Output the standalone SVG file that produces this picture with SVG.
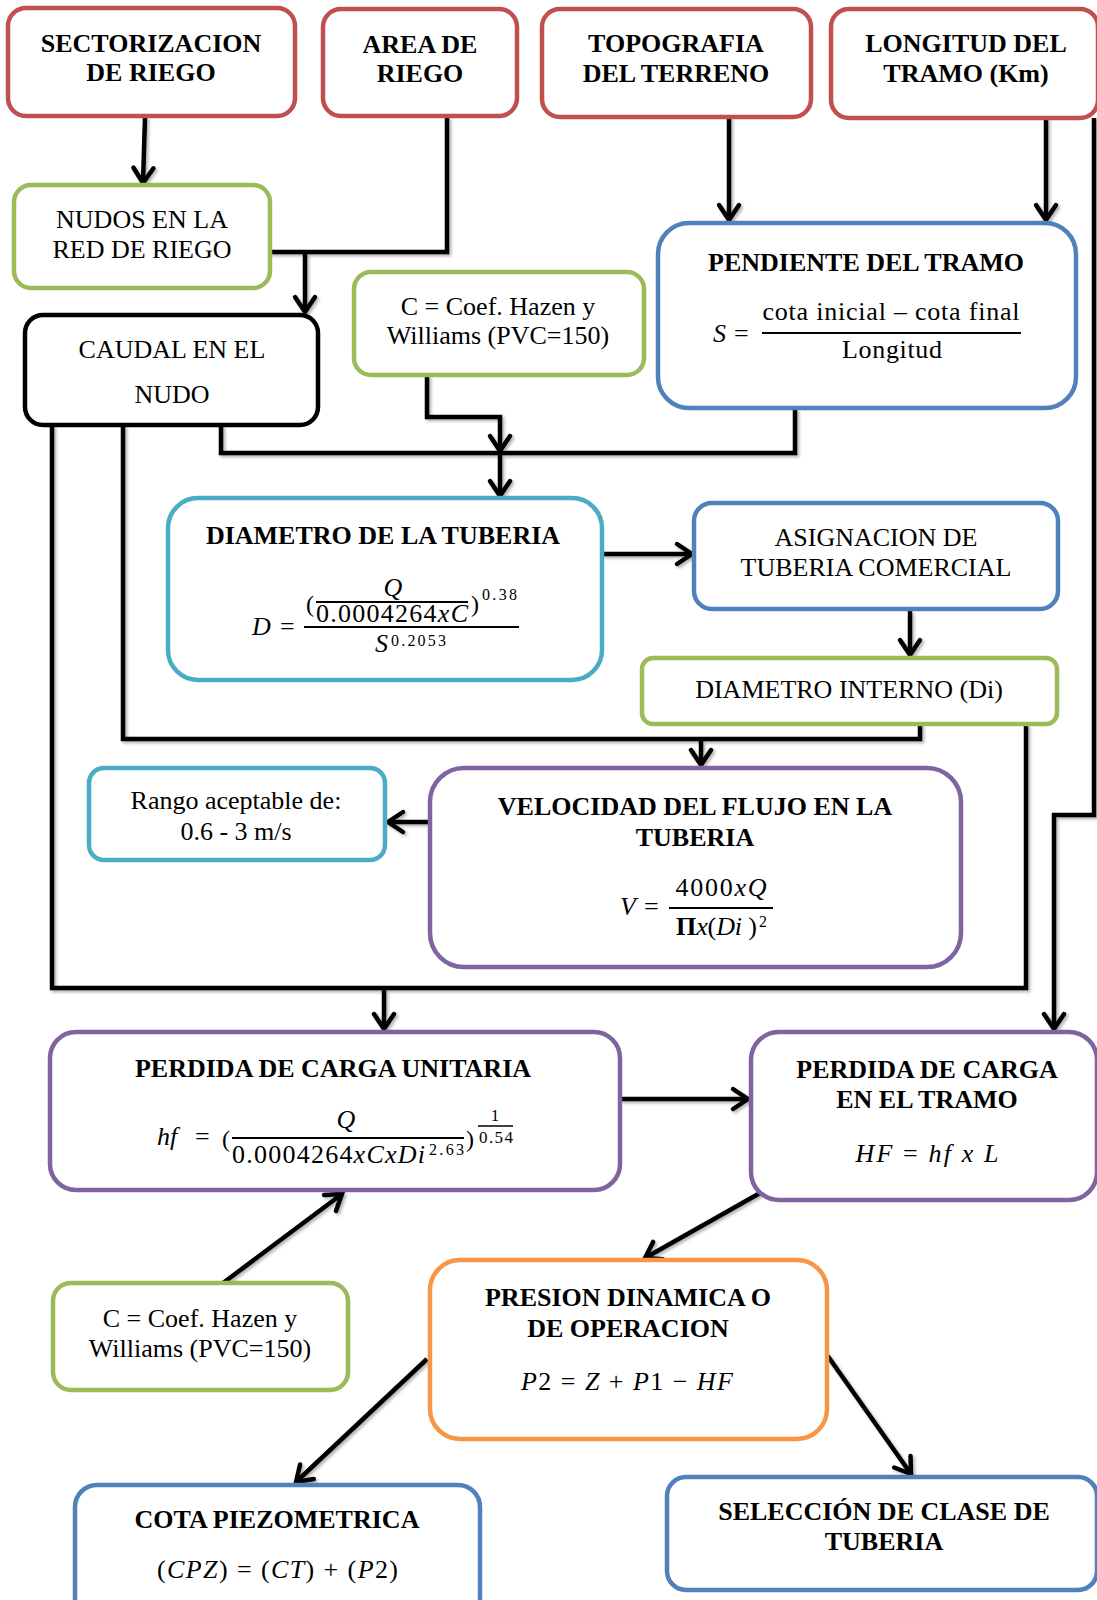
<svg xmlns="http://www.w3.org/2000/svg" width="1097" height="1600" viewBox="0 0 1097 1600">
<style>
.box{fill:#fff;stroke-width:4.5}
.red{stroke:#C0504D}.grn{stroke:#9BBB59}.blu{stroke:#4F81BD}.aqu{stroke:#4BACC6}.pur{stroke:#8064A2}.org{stroke:#F79646}.blk{stroke:#000}
text{font-family:"Liberation Serif","Times New Roman",serif;font-size:26px;fill:#000}
.c{text-anchor:middle}
.b{font-weight:bold}
.i{font-style:italic}
.n{font-style:normal}
.sup{font-size:16px}
.s15{font-size:17px}
.s24{font-size:24px}
.con{fill:none;stroke:#000;stroke-width:4.5;stroke-linejoin:miter}
.bar{stroke:#000;stroke-width:2}
</style>
<defs>
<marker id="ah" markerUnits="userSpaceOnUse" markerWidth="40" markerHeight="40" viewBox="-20 -20 40 40" refX="0" refY="0" orient="auto">
<path d="M-15,-10 L0,0 L-15,10" fill="none" stroke="#000" stroke-width="4.5" stroke-linecap="round"/>
</marker>
<filter id="sh" x="-10%" y="-10%" width="120%" height="120%">
<feDropShadow dx="2" dy="2" stdDeviation="1.5" flood-color="#000" flood-opacity="0.3"/>
</filter>
</defs>

<g id="connectors" filter="url(#sh)">
<path class="con" d="M145,117 L143,183" marker-end="url(#ah)"/>
<path class="con" d="M447,117 V252 H270 M305,252 V312" marker-end="url(#ah)"/>
<path class="con" d="M729,117 V220" marker-end="url(#ah)"/>
<path class="con" d="M1046,118 V220" marker-end="url(#ah)"/>
<path class="con" d="M1094,118 V815 H1054 V1029" marker-end="url(#ah)"/>
<path class="con" d="M427,375 V417 H500 V451" marker-end="url(#ah)"/>
<path class="con" d="M221,425 V453 H795 V408 M500,453 V496" marker-end="url(#ah)"/>
<path class="con" d="M602,554 H692" marker-end="url(#ah)"/>
<path class="con" d="M910,611 V655" marker-end="url(#ah)"/>
<path class="con" d="M123,425 V739 H920 V724 M701,739 V765" marker-end="url(#ah)"/>
<path class="con" d="M430,822 H388" marker-end="url(#ah)"/>
<path class="con" d="M52,425 V988 H1026 V724 M384,988 V1029" marker-end="url(#ah)"/>
<path class="con" d="M620,1099 H748" marker-end="url(#ah)"/>
<path class="con" d="M223,1283 L342,1194" marker-end="url(#ah)"/>
<path class="con" d="M760,1193 L645,1258" marker-end="url(#ah)"/>
<path class="con" d="M427,1359 L296,1482" marker-end="url(#ah)"/>
<path class="con" d="M827,1355 L911,1474" marker-end="url(#ah)"/>
</g>

<g id="n1"><rect class="box red" x="8" y="8" width="287" height="108" rx="18"/>
<text class="c b" x="151" y="52">SECTORIZACION</text><text class="c b" x="151" y="81">DE RIEGO</text></g>

<g id="n2"><rect class="box red" x="323" y="9" width="194" height="107" rx="18"/>
<text class="c b" x="420" y="53">AREA DE</text><text class="c b" x="420" y="82">RIEGO</text></g>

<g id="n3"><rect class="box red" x="542" y="9" width="269" height="108" rx="18"/>
<text class="c b" x="676" y="52">TOPOGRAFIA</text><text class="c b" x="676" y="82">DEL TERRENO</text></g>

<g id="n4"><rect class="box red" x="831" y="9" width="267" height="109" rx="18"/>
<text class="c b" x="966" y="52">LONGITUD DEL</text><text class="c b" x="966" y="82">TRAMO (Km)</text></g>

<g id="n5"><rect class="box grn" x="14" y="185" width="256" height="103" rx="17"/>
<text class="c" x="142" y="228">NUDOS EN LA</text><text class="c" x="142" y="258">RED DE RIEGO</text></g>

<g id="n6"><rect class="box blk" x="25" y="315" width="293" height="110" rx="18"/>
<text class="c" x="172" y="358">CAUDAL EN EL</text><text class="c" x="172" y="403">NUDO</text></g>

<g id="n7"><rect class="box grn" x="354" y="272" width="290" height="103" rx="17"/>
<text class="c" x="498" y="315">C = Coef. Hazen y</text><text class="c" x="498" y="344">Williams (PVC=150)</text></g>

<g id="n8"><rect class="box blu" x="658" y="223" width="418" height="185" rx="31"/>
<text class="c b" x="866" y="271">PENDIENTE DEL TRAMO</text>
<text class="i" x="713" y="342">S</text><text x="734" y="342">=</text>
<line class="bar" x1="762" y1="333" x2="1021" y2="333"/>
<text class="c" x="891" y="320" textLength="257">cota inicial – cota final</text>
<text class="c" x="892" y="358" textLength="100">Longitud</text></g>

<g id="n9"><rect class="box aqu" x="168" y="498" width="434" height="182" rx="30"/>
<text class="c b" x="383" y="544">DIAMETRO DE LA TUBERIA</text>
<text class="i" x="252" y="635">D</text><text x="280" y="635">=</text>
<line class="bar" x1="304" y1="627" x2="519" y2="627"/>
<text class="s24" x="306" y="612">(</text>
<text class="c i" x="393" y="596">Q</text>
<line class="bar" x1="316" y1="602" x2="468" y2="602" style="stroke-width:1.8"/>
<text x="316" y="622" textLength="152">0.0004264<tspan class="i">xC</tspan></text>
<text class="s24" x="471" y="612">)</text>
<text class="sup" x="482" y="600" textLength="35">0.38</text>
<text class="i" x="375" y="652">S</text>
<text class="sup" x="391" y="646" textLength="55">0.2053</text></g>

<g id="n10"><rect class="box blu" x="694" y="503" width="364" height="106" rx="18"/>
<text class="c" x="876" y="546">ASIGNACION DE</text><text class="c" x="876" y="576">TUBERIA COMERCIAL</text></g>

<g id="n11"><rect class="box grn" x="642" y="658" width="415" height="66" rx="11"/>
<text class="c" x="849" y="698">DIAMETRO INTERNO (Di)</text></g>

<g id="n12"><rect class="box aqu" x="89" y="768" width="296" height="92" rx="15"/>
<text class="c" x="236" y="809">Rango aceptable de:</text><text class="c" x="236" y="840">0.6 - 3 m/s</text></g>

<g id="n13"><rect class="box pur" x="430" y="768" width="531" height="199" rx="34"/>
<text class="c b" x="695" y="815">VELOCIDAD DEL FLUJO EN LA</text><text class="c b" x="695" y="846">TUBERIA</text>
<text class="i" x="620" y="915">V</text><text x="644" y="915">=</text>
<line class="bar" x1="669" y1="908" x2="773" y2="908"/>
<text class="c" x="721" y="896" textLength="91">4000<tspan class="i">xQ</tspan></text>
<text x="676" y="935" textLength="81"><tspan class="b">Π</tspan><tspan class="i">x</tspan>(<tspan class="i">Di</tspan> )</text>
<text class="sup" x="759" y="927">2</text></g>

<g id="n14"><rect class="box pur" x="50" y="1032" width="570" height="158" rx="26"/>
<text class="c b" x="333" y="1077">PERDIDA DE CARGA UNITARIA</text>
<text class="i" x="157" y="1145">hf</text><text x="195" y="1145">=</text>
<text class="s24" x="222" y="1147">(</text>
<text class="c i" x="346" y="1128">Q</text>
<line class="bar" x1="232" y1="1138" x2="464" y2="1138" style="stroke-width:1.8"/>
<text x="232" y="1163" textLength="193">0.0004264<tspan class="i">xCxDi</tspan></text>
<text class="sup" x="429" y="1155" textLength="35">2.63</text>
<text class="s24" x="466" y="1147">)</text>
<text class="c s15" x="495" y="1121">1</text>
<line class="bar" x1="478" y1="1126" x2="513" y2="1126" style="stroke-width:1.5"/>
<text class="s15" x="479" y="1143" textLength="34">0.54</text></g>

<g id="n15"><rect class="box pur" x="751" y="1032" width="346" height="168" rx="28"/>
<text class="c b" x="927" y="1078">PERDIDA DE CARGA</text><text class="c b" x="927" y="1108">EN EL TRAMO</text>
<text class="c i" x="927" y="1162" textLength="143">HF <tspan class="n">=</tspan> hf x L</text></g>

<g id="n16"><rect class="box grn" x="53" y="1283" width="295" height="107" rx="18"/>
<text class="c" x="200" y="1327">C = Coef. Hazen y</text><text class="c" x="200" y="1357">Williams (PVC=150)</text></g>

<g id="n17"><rect class="box org" x="430" y="1260" width="397" height="179" rx="30"/>
<text class="c b" x="628" y="1306">PRESION DINAMICA O</text><text class="c b" x="628" y="1337">DE OPERACION</text>
<text x="521" y="1390" textLength="212"><tspan class="i">P</tspan>2 = <tspan class="i">Z</tspan> + <tspan class="i">P</tspan>1 − <tspan class="i">HF</tspan></text></g>

<g id="n18"><rect class="box blu" x="75" y="1485" width="405" height="135" rx="22"/>
<text class="c b" x="277" y="1528">COTA PIEZOMETRICA</text>
<text x="157" y="1578" textLength="241">(<tspan class="i">CPZ</tspan>) = (<tspan class="i">CT</tspan>) + (<tspan class="i">P</tspan>2)</text></g>

<g id="n19"><rect class="box blu" x="667" y="1477" width="430" height="113" rx="19"/>
<text class="c b" x="884" y="1520">SELECCIÓN DE CLASE DE</text><text class="c b" x="884" y="1550">TUBERIA</text></g>
</svg>
